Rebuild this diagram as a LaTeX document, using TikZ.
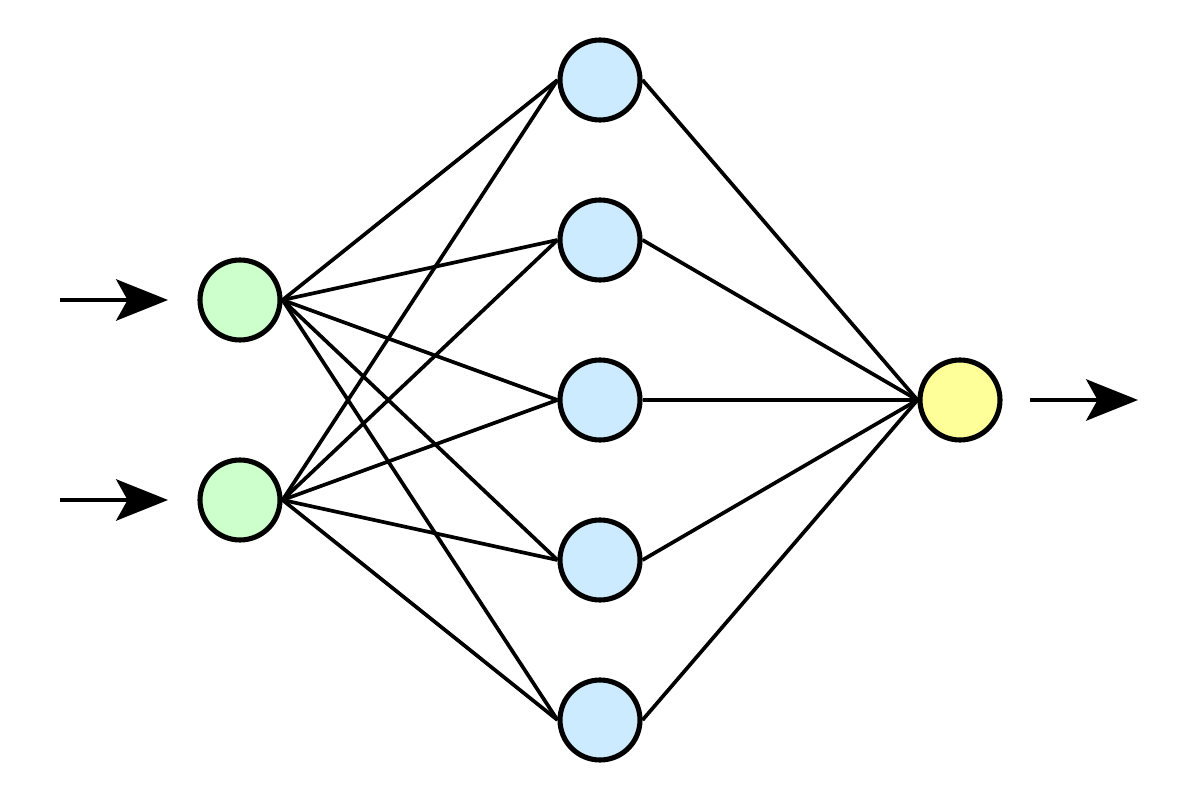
\documentclass[tikz,border=0pt]{standalone}
\usetikzlibrary{arrows.meta}
\definecolor{ingreen}{HTML}{CCFFCC}
\definecolor{hidblue}{HTML}{CCEBFF}
\definecolor{outyellow}{HTML}{FFFF99}
\tikzset{
  neuron/.style={circle, draw=black, line width=2.9pt, minimum size=1.6cm, inner sep=0pt},
  inneuron/.style={neuron, fill=ingreen},
  hidneuron/.style={neuron, fill=hidblue},
  outneuron/.style={neuron, fill=outyellow},
  conn/.style={draw=black, line width=2.1pt},
  ioarrow/.style={draw=black, line width=2.3pt, -{Stealth[length=29.5pt, width=23.5pt, inset=6.5pt]}}
}
\begin{document}
\begin{tikzpicture}[x=0.02cm, y=-0.02cm]
\useasboundingbox (0,0) rectangle (1200,800);
% nodes
\node[inneuron] (i1) at (240,300) {};
\node[inneuron] (i2) at (240,500) {};
\node[hidneuron] (h1) at (600,80) {};
\node[hidneuron] (h2) at (600,240) {};
\node[hidneuron] (h3) at (600,400) {};
\node[hidneuron] (h4) at (600,560) {};
\node[hidneuron] (h5) at (600,720) {};
\node[outneuron] (o) at (960,400) {};
% io arrow ends
\coordinate (a1s) at (60,300);
\coordinate (a1e) at (168,300);
\coordinate (a2s) at (60,500);
\coordinate (a2e) at (168,500);
\coordinate (a3s) at (1030,400);
\coordinate (a3e) at (1138,400);
% connectors
\foreach \i in {i1,i2}{
  \foreach \h in {h1,h2,h3,h4,h5}{
    \draw[conn] (\i.east) -- (\h.west);
  }
}
\foreach \h in {h1,h2,h3,h4,h5}{
  \draw[conn] (\h.east) -- (o.west);
}
% arrows
\draw[ioarrow] (a1s) -- (a1e);
\draw[ioarrow] (a2s) -- (a2e);
\draw[ioarrow] (a3s) -- (a3e);
\end{tikzpicture}
\end{document}
